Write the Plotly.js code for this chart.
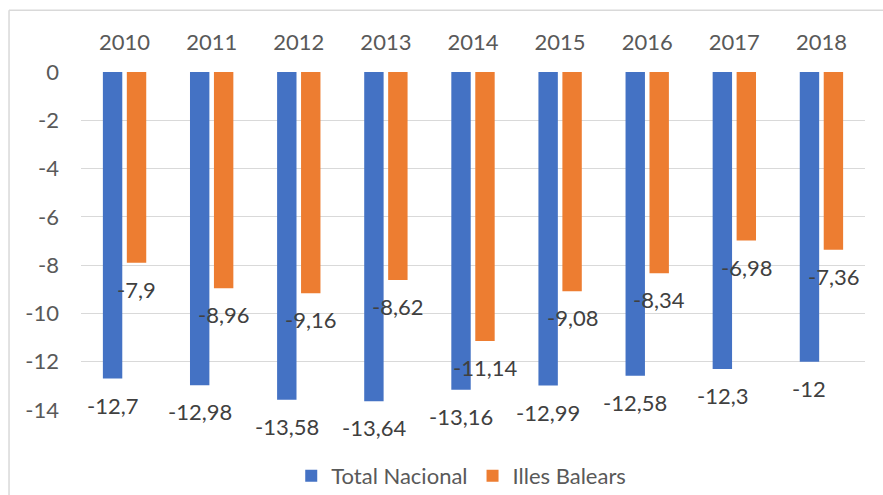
<!DOCTYPE html>
<html>
<head>
<meta charset="utf-8">
<script src="https://cdn.plot.ly/plotly-3.0.1.min.js"></script>
<style>html,body{margin:0;padding:0;background:#fff;}#chart{width:883px;height:495px;}</style>
</head>
<body>
<div id="chart"></div>
<script>
const years = ['2010','2011','2012','2013','2014','2015','2016','2017','2018'];
const totalNacional = [-12.7, -12.98, -13.58, -13.64, -13.16, -12.99, -12.58, -12.3, -12];
const illesBalears = [-7.9, -8.96, -9.16, -8.62, -11.14, -9.08, -8.34, -6.98, -7.36];
const seriesNames = ['Total Nacional', 'Illes Balears'];
const yTickVals = [0, -2, -4, -6, -8, -10, -12, -14];
const yTickText = ['0', '-2', '-4', '-6', '-8', '-10', '-12', '-14'];

const font = 'Lato, "Open Sans", sans-serif';
const fmt = v => String(v).replace('.', ',');

const traces = [
  {type:'bar', name:seriesNames[0], x:years, y:totalNacional, marker:{color:'#4472C4', line:{width:0}}, hoverinfo:'none'},
  {type:'bar', name:seriesNames[1], x:years, y:illesBalears, marker:{color:'#ED7D31', line:{width:0}}, hoverinfo:'none'}
];

const annotations = [];
[[totalNacional, -12], [illesBalears, 12]].forEach(([arr, xs]) => {
  arr.forEach((v, i) => {
    annotations.push({x:years[i], y:v, xref:'x', yref:'y', text:fmt(v), showarrow:false,
      xanchor:'center', yanchor:'top', xshift:xs, yshift:-11,
      font:{family:font, size:22, color:'#404040'}});
  });
});

const layout = {
  width:883, height:495,
  margin:{l:81, r:18, t:72, b:85, autoexpand:false},
  paper_bgcolor:'#fff', plot_bgcolor:'#fff',
  barmode:'group', bargap:0.45, bargroupgap:0.19,
  font:{family:font, size:22, color:'#595959'},
  xaxis:{side:'top', showgrid:false, zeroline:false, showline:false, ticks:'', ticklabelstandoff:17,
    tickfont:{family:font, size:22, color:'#595959'}, fixedrange:true},
  yaxis:{range:[-14, 0], tickvals:yTickVals, ticktext:yTickText, showgrid:true, gridcolor:'#d9d9d9', gridwidth:1.2,
    zeroline:false, showline:false, ticks:'', ticklabelstandoff:21,
    tickfont:{family:font, size:22, color:'#595959'}, fixedrange:true},
  showlegend:true,
  legend:{orientation:'h', x:0.485, xanchor:'center', y:-0.195, yanchor:'middle',
    font:{family:font, size:22, color:'#595959'}, itemclick:false, itemdoubleclick:false},
  annotations:annotations,
  shapes:[
    {type:'line', xref:'paper', yref:'paper', x0:-0.0918, x1:1.1, y0:1.183, y1:1.183, line:{color:'#d9d9d9', width:1.5}},
    {type:'line', xref:'paper', yref:'paper', x0:-0.0918, x1:-0.0918, y0:1.183, y1:-0.4, line:{color:'#d9d9d9', width:1.5}}
  ]
};

Plotly.newPlot('chart', traces, layout, {displayModeBar:false, staticPlot:true});
</script>
</body>
</html>
